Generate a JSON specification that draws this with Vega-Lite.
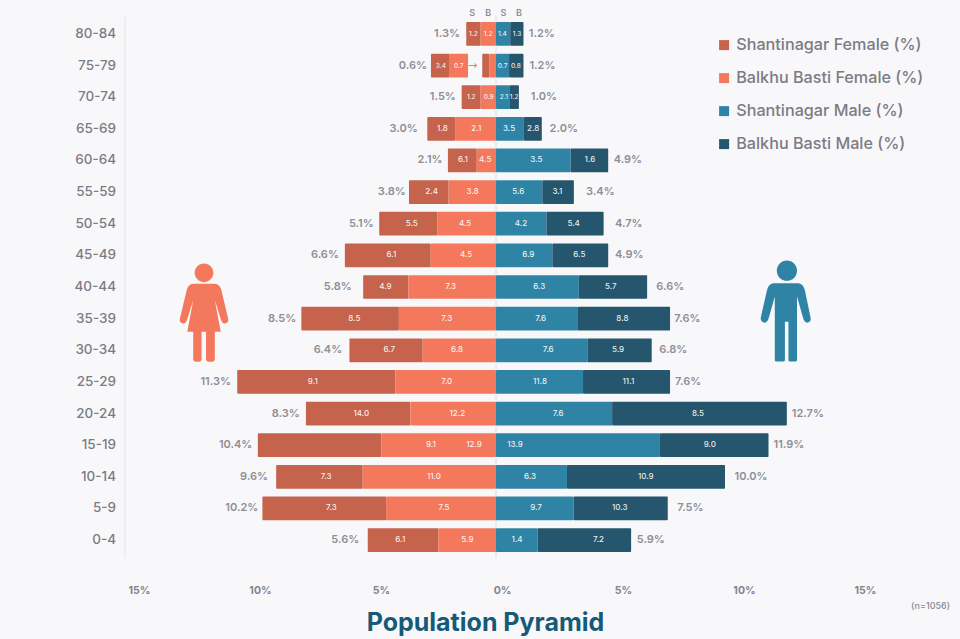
{
  "$schema": "https://vega.github.io/schema/vega-lite/v6.json",
  "autosize": "none",
  "width": 960,
  "height": 542,
  "padding": {"left": 0, "top": 16, "right": 0, "bottom": 81},
  "background": "#f8f8fb",
  "view": {"stroke": null},
  "title": {"text": "(n=1056)", "orient": "bottom", "anchor": "end", "frame": "group", "font": "Inter", "fontSize": 9, "fontWeight": 500, "color": "#8a8a90", "dx": -10, "dy": -37},
  "datasets": {
    "segments": [
      {"age":"80-84","series":"Shantinagar Female (%)","from":-1.3,"to":-0.67,"label":"1.2","at":-0.99},
      {"age":"80-84","series":"Balkhu Basti Female (%)","from":-0.67,"to":0,"label":"1.2","at":-0.34},
      {"age":"80-84","series":"Shantinagar Male (%)","from":0,"to":0.62,"label":"1.4","at":0.28},
      {"age":"80-84","series":"Balkhu Basti Male (%)","from":0.62,"to":1.2,"label":"1.3","at":0.92},
      {"age":"75-79","series":"Shantinagar Female (%)","from":-0.6,"to":-0.28,"label":"","at":-0.44},
      {"age":"75-79","series":"Balkhu Basti Female (%)","from":-0.28,"to":0,"label":"","at":-0.14},
      {"age":"75-79","series":"Shantinagar Female (%)","from":-2.84,"to":-2.02,"label":"3.4","at":-2.41},
      {"age":"75-79","series":"Balkhu Basti Female (%)","from":-2.02,"to":-1.22,"label":"0.7","at":-1.63},
      {"age":"75-79","series":"Shantinagar Male (%)","from":0,"to":0.57,"label":"0.7","at":0.29},
      {"age":"75-79","series":"Balkhu Basti Male (%)","from":0.57,"to":1.2,"label":"0.8","at":0.87},
      {"age":"70-74","series":"Shantinagar Female (%)","from":-1.5,"to":-0.67,"label":"1.2","at":-1.08},
      {"age":"70-74","series":"Balkhu Basti Female (%)","from":-0.67,"to":0,"label":"0.9","at":-0.32},
      {"age":"70-74","series":"Shantinagar Male (%)","from":0,"to":0.58,"label":"2.1","at":0.34},
      {"age":"70-74","series":"Balkhu Basti Male (%)","from":0.58,"to":1.0,"label":"1.2","at":0.79},
      {"age":"65-69","series":"Shantinagar Female (%)","from":-3.0,"to":-1.76,"label":"1.8","at":-2.34},
      {"age":"65-69","series":"Balkhu Basti Female (%)","from":-1.76,"to":0,"label":"2.1","at":-0.86},
      {"age":"65-69","series":"Shantinagar Male (%)","from":0,"to":1.22,"label":"3.5","at":0.57},
      {"age":"65-69","series":"Balkhu Basti Male (%)","from":1.22,"to":2.0,"label":"2.8","at":1.62},
      {"age":"60-64","series":"Shantinagar Female (%)","from":-2.1,"to":-0.84,"label":"6.1","at":-1.45},
      {"age":"60-64","series":"Balkhu Basti Female (%)","from":-0.84,"to":0,"label":"4.5","at":-0.47},
      {"age":"60-64","series":"Shantinagar Male (%)","from":0,"to":3.26,"label":"3.5","at":1.76},
      {"age":"60-64","series":"Balkhu Basti Male (%)","from":3.26,"to":4.9,"label":"1.6","at":4.1},
      {"age":"55-59","series":"Shantinagar Female (%)","from":-3.8,"to":-2.07,"label":"2.4","at":-2.81},
      {"age":"55-59","series":"Balkhu Basti Female (%)","from":-2.07,"to":0,"label":"3.8","at":-1.02},
      {"age":"55-59","series":"Shantinagar Male (%)","from":0,"to":2.02,"label":"5.6","at":0.97},
      {"age":"55-59","series":"Balkhu Basti Male (%)","from":2.02,"to":3.4,"label":"3.1","at":2.68},
      {"age":"50-54","series":"Shantinagar Female (%)","from":-5.1,"to":-2.55,"label":"5.5","at":-3.68},
      {"age":"50-54","series":"Balkhu Basti Female (%)","from":-2.55,"to":0,"label":"4.5","at":-1.35},
      {"age":"50-54","series":"Shantinagar Male (%)","from":0,"to":2.2,"label":"4.2","at":1.09},
      {"age":"50-54","series":"Balkhu Basti Male (%)","from":2.2,"to":4.7,"label":"5.4","at":3.39},
      {"age":"45-49","series":"Shantinagar Female (%)","from":-6.6,"to":-2.85,"label":"6.1","at":-4.57},
      {"age":"45-49","series":"Balkhu Basti Female (%)","from":-2.85,"to":0,"label":"4.5","at":-1.31},
      {"age":"45-49","series":"Shantinagar Male (%)","from":0,"to":2.46,"label":"6.9","at":1.41},
      {"age":"45-49","series":"Balkhu Basti Male (%)","from":2.46,"to":4.9,"label":"6.5","at":3.64},
      {"age":"40-44","series":"Shantinagar Female (%)","from":-5.8,"to":-3.83,"label":"4.9","at":-4.83},
      {"age":"40-44","series":"Balkhu Basti Female (%)","from":-3.83,"to":0,"label":"7.3","at":-1.98},
      {"age":"40-44","series":"Shantinagar Male (%)","from":0,"to":3.62,"label":"6.3","at":1.89},
      {"age":"40-44","series":"Balkhu Basti Male (%)","from":3.62,"to":6.6,"label":"5.7","at":5.01},
      {"age":"35-39","series":"Shantinagar Female (%)","from":-8.5,"to":-4.24,"label":"8.5","at":-6.19},
      {"age":"35-39","series":"Balkhu Basti Female (%)","from":-4.24,"to":0,"label":"7.3","at":-2.15},
      {"age":"35-39","series":"Shantinagar Male (%)","from":0,"to":3.58,"label":"7.6","at":1.95},
      {"age":"35-39","series":"Balkhu Basti Male (%)","from":3.58,"to":7.6,"label":"8.8","at":5.52},
      {"age":"30-34","series":"Shantinagar Female (%)","from":-6.4,"to":-3.2,"label":"6.7","at":-4.66},
      {"age":"30-34","series":"Balkhu Basti Female (%)","from":-3.2,"to":0,"label":"6.8","at":-1.7},
      {"age":"30-34","series":"Shantinagar Male (%)","from":0,"to":3.99,"label":"7.6","at":2.28},
      {"age":"30-34","series":"Balkhu Basti Male (%)","from":3.99,"to":6.8,"label":"5.9","at":5.33},
      {"age":"25-29","series":"Shantinagar Female (%)","from":-11.3,"to":-4.4,"label":"9.1","at":-8.0},
      {"age":"25-29","series":"Balkhu Basti Female (%)","from":-4.4,"to":0,"label":"7.0","at":-2.15},
      {"age":"25-29","series":"Shantinagar Male (%)","from":0,"to":3.8,"label":"11.8","at":1.92},
      {"age":"25-29","series":"Balkhu Basti Male (%)","from":3.8,"to":7.6,"label":"11.1","at":5.78},
      {"age":"20-24","series":"Shantinagar Female (%)","from":-8.3,"to":-3.74,"label":"14.0","at":-5.88},
      {"age":"20-24","series":"Balkhu Basti Female (%)","from":-3.74,"to":0,"label":"12.2","at":-1.69},
      {"age":"20-24","series":"Shantinagar Male (%)","from":0,"to":5.07,"label":"7.6","at":2.71},
      {"age":"20-24","series":"Balkhu Basti Male (%)","from":5.07,"to":12.7,"label":"8.5","at":8.82},
      {"age":"15-19","series":"Shantinagar Female (%)","from":-10.4,"to":-5.01,"label":"9.1","at":-2.84},
      {"age":"15-19","series":"Balkhu Basti Female (%)","from":-5.01,"to":0,"label":"12.9","at":-0.96},
      {"age":"15-19","series":"Shantinagar Male (%)","from":0,"to":7.16,"label":"13.9","at":0.83},
      {"age":"15-19","series":"Balkhu Basti Male (%)","from":7.16,"to":11.9,"label":"9.0","at":9.34},
      {"age":"10-14","series":"Shantinagar Female (%)","from":-9.6,"to":-5.82,"label":"7.3","at":-7.42},
      {"age":"10-14","series":"Balkhu Basti Female (%)","from":-5.82,"to":0,"label":"11.0","at":-2.71},
      {"age":"10-14","series":"Shantinagar Male (%)","from":0,"to":3.1,"label":"6.3","at":1.48},
      {"age":"10-14","series":"Balkhu Basti Male (%)","from":3.1,"to":10.0,"label":"10.9","at":6.54},
      {"age":"5-9","series":"Shantinagar Female (%)","from":-10.2,"to":-4.8,"label":"7.3","at":-7.19},
      {"age":"5-9","series":"Balkhu Basti Female (%)","from":-4.8,"to":0,"label":"7.5","at":-2.27},
      {"age":"5-9","series":"Shantinagar Male (%)","from":0,"to":3.39,"label":"9.7","at":1.75},
      {"age":"5-9","series":"Balkhu Basti Male (%)","from":3.39,"to":7.5,"label":"10.3","at":5.4},
      {"age":"0-4","series":"Shantinagar Female (%)","from":-5.6,"to":-2.52,"label":"6.1","at":-4.18},
      {"age":"0-4","series":"Balkhu Basti Female (%)","from":-2.52,"to":0,"label":"5.9","at":-1.25},
      {"age":"0-4","series":"Shantinagar Male (%)","from":0,"to":1.82,"label":"1.4","at":0.92},
      {"age":"0-4","series":"Balkhu Basti Male (%)","from":1.82,"to":5.9,"label":"7.2","at":4.48}
    ],
    "totals": [
      {"age":"80-84","text":"1.3%","at":-2.14},{"age":"80-84","text":"1.2%","at":2.0},
      {"age":"75-79","text":"0.6%","at":-3.63},{"age":"75-79","text":"1.2%","at":2.03},
      {"age":"70-74","text":"1.5%","at":-2.32},{"age":"70-74","text":"1.0%","at":2.09},
      {"age":"65-69","text":"3.0%","at":-4.03},{"age":"65-69","text":"2.0%","at":2.96},
      {"age":"60-64","text":"2.1%","at":-2.88},{"age":"60-64","text":"4.9%","at":5.76},
      {"age":"55-59","text":"3.8%","at":-4.55},{"age":"55-59","text":"3.4%","at":4.56},
      {"age":"50-54","text":"5.1%","at":-5.88},{"age":"50-54","text":"4.7%","at":5.8},
      {"age":"45-49","text":"6.6%","at":-7.47},{"age":"45-49","text":"4.9%","at":5.82},
      {"age":"40-44","text":"5.8%","at":-6.91},{"age":"40-44","text":"6.6%","at":7.61},
      {"age":"35-39","text":"8.5%","at":-9.34},{"age":"35-39","text":"7.6%","at":8.36},
      {"age":"30-34","text":"6.4%","at":-7.34},{"age":"30-34","text":"6.8%","at":7.74},
      {"age":"25-29","text":"11.3%","at":-12.24},{"age":"25-29","text":"7.6%","at":8.39},
      {"age":"20-24","text":"8.3%","at":-9.18},{"age":"20-24","text":"12.7%","at":13.62},
      {"age":"15-19","text":"10.4%","at":-11.37},{"age":"15-19","text":"11.9%","at":12.79},
      {"age":"10-14","text":"9.6%","at":-10.57},{"age":"10-14","text":"10.0%","at":11.14},
      {"age":"5-9","text":"10.2%","at":-11.1},{"age":"5-9","text":"7.5%","at":8.49},
      {"age":"0-4","text":"5.6%","at":-6.58},{"age":"0-4","text":"5.9%","at":6.76}
    ]
  },
  "resolve": {"scale": {"x": "independent"}},
  "layer": [
    {
      "layer": [
        {
          "data": {"values": [{"zero": 0}]},
          "mark": {"type": "rule", "color": "#dcdce2", "strokeWidth": 1},
          "encoding": {
            "x": {"field": "zero", "type": "quantitative", "axis": null, "scale": {"domain": [-21.6594, 20.262], "nice": false, "zero": false}}
          }
        },
        {
          "data": {"name": "segments"},
          "mark": {"type": "bar", "cornerRadius": 1},
          "encoding": {
            "y": {
              "field": "age", "type": "ordinal", "sort": null,
              "scale": {"domain": ["80-84","75-79","70-74","65-69","60-64","55-59","50-54","45-49","40-44","35-39","30-34","25-29","20-24","15-19","10-14","5-9","0-4"], "paddingInner": 0.25, "paddingOuter": 0.19},
              "axis": {"title": null, "orient": "left", "offset": -124.5, "ticks": false, "labelPadding": 9, "domainColor": "#e4e4e8", "labelFont": "Inter", "labelFontSize": 13.5, "labelFontWeight": 500, "labelColor": "#7c7c82", "grid": false}
            },
            "x": {"field": "from", "type": "quantitative", "axis": null, "scale": {"domain": [-21.6594, 20.262], "nice": false, "zero": false}},
            "x2": {"field": "to"},
            "color": {
              "field": "series", "type": "nominal",
              "scale": {
                "domain": ["Shantinagar Female (%)","Balkhu Basti Female (%)","Shantinagar Male (%)","Balkhu Basti Male (%)"],
                "range": ["#c5634d","#f4785c","#2f84a5","#25566e"]
              },
              "legend": {"title": null, "orient": "none", "legendX": 716, "legendY": 21, "symbolType": "square", "symbolSize": 100, "labelFont": "Inter", "labelFontSize": 16.2, "labelFontWeight": 500, "labelColor": "#7c7c82", "rowPadding": 16, "labelOffset": 4, "labelLimit": 300}
            }
          }
        },
        {
          "data": {"name": "segments"},
          "mark": {"type": "text", "font": "Inter", "fontWeight": 500, "color": "#ffffff", "fillOpacity": 0.9},
          "encoding": {
            "y": {"field": "age", "type": "ordinal", "sort": null},
            "x": {"field": "at", "type": "quantitative", "axis": null, "scale": {"domain": [-21.6594, 20.262], "nice": false, "zero": false}},
            "text": {"field": "label"},
            "size": {"condition": {"test": "indexof(['80-84','75-79','70-74'], datum.age) >= 0", "value": 6.5}, "value": 8}
          }
        },
        {
          "data": {"name": "totals"},
          "mark": {"type": "text", "font": "Inter", "fontWeight": 600, "fontSize": 11, "color": "#8e8e94"},
          "encoding": {
            "y": {"field": "age", "type": "ordinal", "sort": null},
            "x": {"field": "at", "type": "quantitative", "axis": null, "scale": {"domain": [-21.6594, 20.262], "nice": false, "zero": false}},
            "text": {"field": "text"}
          }
        },
        {
          "data": {"values": [{"age": "80-84", "text": "S", "at": -1.04}, {"age": "80-84", "text": "B", "at": -0.34}, {"age": "80-84", "text": "S", "at": 0.32}, {"age": "80-84", "text": "B", "at": 1.0}]},
          "mark": {"type": "text", "font": "Inter", "fontWeight": 600, "fontSize": 9, "color": "#8e8e94", "dy": -21},
          "encoding": {
            "y": {"field": "age", "type": "ordinal", "sort": null},
            "x": {"field": "at", "type": "quantitative", "axis": null, "scale": {"domain": [-21.6594, 20.262], "nice": false, "zero": false}},
            "text": {"field": "text"}
          }
        },
        {
          "data": {"values": [{"age": "75-79", "text": "→", "at": -1.02}]},
          "mark": {"type": "text", "font": "DejaVu Sans", "fontSize": 11, "color": "#f4785c"},
          "encoding": {
            "y": {"field": "age", "type": "ordinal", "sort": null},
            "x": {"field": "at", "type": "quantitative", "axis": null, "scale": {"domain": [-21.6594, 20.262], "nice": false, "zero": false}},
            "text": {"field": "text"}
          }
        },
        {
          "data": {"values": [{"age": "35-39", "at": -12.75}]},
          "mark": {
            "type": "point", "filled": true, "opacity": 1, "color": "#f4785c", "size": 9660, "yOffset": -6,
            "shape": "M-.19 -.81A.19 .19 0 1 1 .19 -.81A.19 .19 0 1 1 -.19 -.81ZM-.22 -.59L.22 -.59Q.32 -.58 .35 -.47L.49 .12Q.51 .2 .43 .22Q.38 .23 .35 .16L.22 -.25L.34 .39L.22 .39L.22 .95Q.22 1 .17 1L.09 1Q.04 1 .04 .95L.04 .39L-.05 .39L-.05 .95Q-.05 1 -.1 1L-.17 1Q-.22 1 -.22 .95L-.22 .39L-.34 .39L-.22 -.25L-.35 .16Q-.38 .23 -.43 .22Q-.51 .2 -.49 .12L-.35 -.47Q-.32 -.58 -.22 -.59Z"
          },
          "encoding": {
            "y": {"field": "age", "type": "ordinal", "sort": null},
            "x": {"field": "at", "type": "quantitative", "axis": null, "scale": {"domain": [-21.6594, 20.262], "nice": false, "zero": false}}
          }
        },
        {
          "data": {"values": [{"age": "35-39", "at": 12.66}]},
          "mark": {
            "type": "point", "filled": true, "opacity": 1, "color": "#2f84a5", "size": 10200, "yOffset": -6.6,
            "shape": "M-.18 -.82A.2 .2 0 1 1 .22 -.82A.2 .2 0 1 1 -.18 -.82ZM-.25 -.57L.25 -.57Q.35 -.56 .38 -.41L.49 .12Q.5 .2 .42 .21Q.37 .21 .34 .12L.22 -.31L.22 .95Q.22 .98 .19 .98L.08 .98Q.05 .98 .05 .95L.05 .19L-.02 .19L-.02 .95Q-.02 .98 -.05 .98L-.19 .98Q-.22 .98 -.22 .95L-.22 -.31L-.34 .12Q-.37 .21 -.42 .21Q-.5 .2 -.5 .12L-.38 -.41Q-.35 -.56 -.25 -.57Z"
          },
          "encoding": {
            "y": {"field": "age", "type": "ordinal", "sort": null},
            "x": {"field": "at", "type": "quantitative", "axis": null, "scale": {"domain": [-21.6594, 20.262], "nice": false, "zero": false}}
          }
        }
      ]
    },
    {
      "data": {"values": [{"tick": -15}, {"tick": -10}, {"tick": -5}, {"tick": 0}, {"tick": 5}, {"tick": 10}, {"tick": 15}]},
      "mark": {"type": "rule", "opacity": 0},
      "encoding": {
        "x": {
          "field": "tick", "type": "quantitative",
          "scale": {"domain": [-20.7438, 18.9256], "nice": false, "zero": false},
          "axis": {
            "orient": "bottom", "values": [-15, -10, -5, 0, 5, 10, 15], "labelExpr": "abs(datum.value) + '%'",
            "domain": false, "ticks": false, "grid": false, "labelPadding": 27,
            "labelFont": "Inter", "labelFontSize": 10.5, "labelFontWeight": 700, "labelColor": "#84848a",
            "title": "Population Pyramid", "titleFont": "Inter", "titleFontSize": 25, "titleFontWeight": 700, "titleColor": "#165a78",
            "titleX": 485, "titleY": 64, "titleBaseline": "middle", "titleAlign": "center"
          }
        }
      }
    }
  ]
}
